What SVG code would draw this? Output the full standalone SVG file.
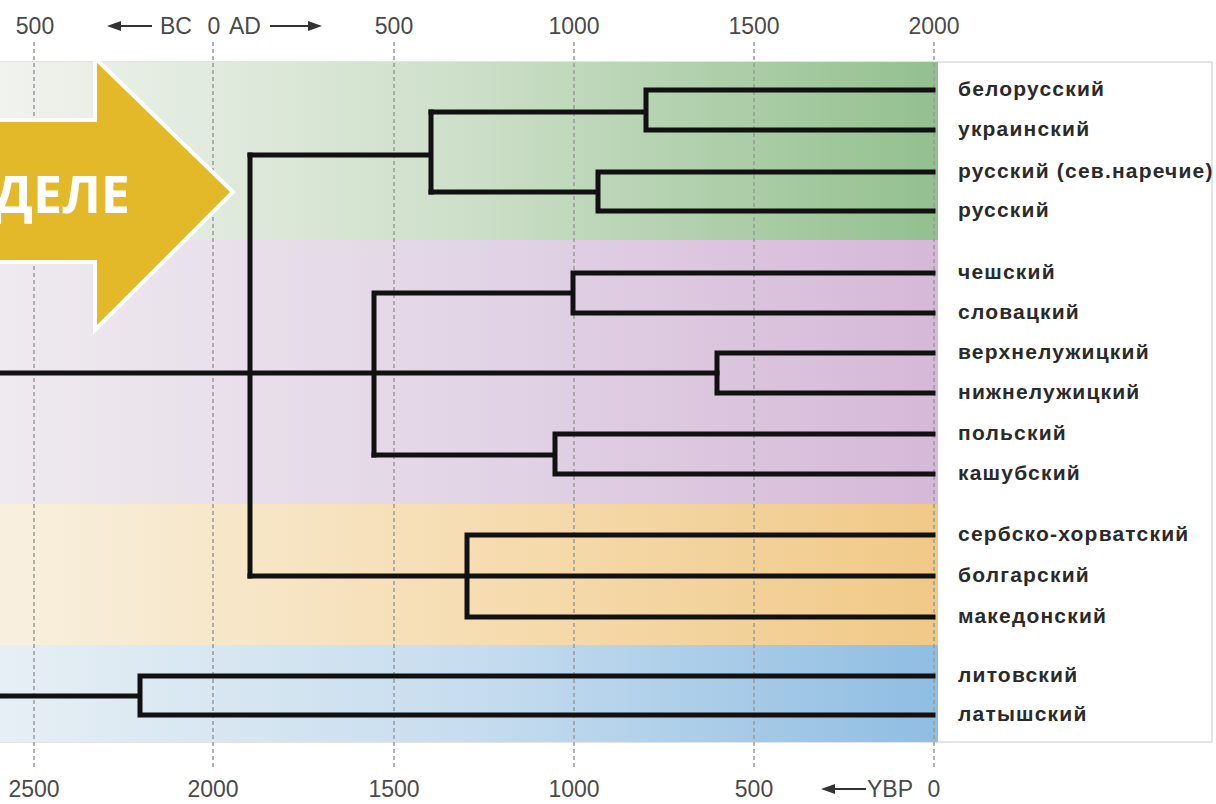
<svg xmlns="http://www.w3.org/2000/svg" width="1216" height="804" viewBox="0 0 1216 804">
<defs>
<linearGradient id="gGreen" x1="0" y1="0" x2="1" y2="0"><stop offset="0" stop-color="#f1f3ee"/><stop offset="0.5" stop-color="#cddfc9"/><stop offset="1" stop-color="#93c08f"/></linearGradient>
<linearGradient id="gPurple" x1="0" y1="0" x2="1" y2="0"><stop offset="0" stop-color="#efeaef"/><stop offset="0.5" stop-color="#e2d5e6"/><stop offset="1" stop-color="#d6b8d8"/></linearGradient>
<linearGradient id="gOrange" x1="0" y1="0" x2="1" y2="0"><stop offset="0" stop-color="#f8f0df"/><stop offset="0.5" stop-color="#f6ddb2"/><stop offset="1" stop-color="#f0c987"/></linearGradient>
<linearGradient id="gBlue" x1="0" y1="0" x2="1" y2="0"><stop offset="0" stop-color="#e6eff4"/><stop offset="0.5" stop-color="#c7ddef"/><stop offset="1" stop-color="#8fbde2"/></linearGradient>
</defs>
<style>
.grid{stroke:#9a9a9a;stroke-width:1.5;stroke-dasharray:4 3;fill:none}
.tree{stroke:#111;stroke-width:5;fill:none;stroke-linecap:square}
.axis{font-family:"Liberation Sans",Arial,sans-serif;font-size:23px;fill:#4a4a4a}
.mid{text-anchor:middle}
.lbl{font-family:"Liberation Sans",Arial,sans-serif;font-size:21px;font-weight:bold;fill:#2a2a2a;letter-spacing:1.2px}
.ax{stroke:#333;stroke-width:2}
</style>
<rect width="1216" height="804" fill="#fff"/>
<rect x="-2" y="62" width="1214" height="680" fill="#fff" stroke="#dcdcdc" stroke-width="1.5"/>
<g id="bands">
<rect x="0" y="62" width="938" height="178" fill="url(#gGreen)"/>
<rect x="0" y="240" width="938" height="264" fill="url(#gPurple)"/>
<rect x="0" y="504" width="938" height="141" fill="url(#gOrange)"/>
<rect x="0" y="645" width="938" height="97" fill="url(#gBlue)"/>
</g>
<g id="grid">
<line class="grid" x1="34" y1="42" x2="34" y2="768"/>
<line class="grid" x1="213" y1="42" x2="213" y2="768"/>
<line class="grid" x1="394" y1="42" x2="394" y2="768"/>
<line class="grid" x1="574" y1="42" x2="574" y2="768"/>
<line class="grid" x1="754" y1="42" x2="754" y2="768"/>
<line class="grid" x1="934" y1="42" x2="934" y2="768"/>
</g>
<g id="axis-top">
<text class="axis mid" x="35" y="34">500</text>
<line class="ax" x1="116" y1="26" x2="152" y2="26"/>
<polygon points="107,26 121,21 121,31" fill="#333"/>
<text class="axis" x="160" y="34">BC</text>
<text class="axis mid" x="214" y="34">0</text>
<text class="axis" x="229" y="34">AD</text>
<line class="ax" x1="270" y1="26" x2="312" y2="26"/>
<polygon points="322,26 308,21 308,31" fill="#333"/>
<text class="axis mid" x="394" y="34">500</text>
<text class="axis mid" x="574" y="34">1000</text>
<text class="axis mid" x="754" y="34">1500</text>
<text class="axis mid" x="934" y="34">2000</text>
</g>
<g id="axis-bottom">
<text class="axis mid" x="34" y="797">2500</text>
<text class="axis mid" x="213" y="797">2000</text>
<text class="axis mid" x="394" y="797">1500</text>
<text class="axis mid" x="574" y="797">1000</text>
<text class="axis mid" x="754" y="797">500</text>
<line class="ax" x1="830" y1="789" x2="866" y2="789"/>
<polygon points="821,789 835,784 835,794" fill="#333"/>
<text class="axis" x="867" y="797">YBP</text>
<text class="axis mid" x="934" y="797">0</text>
</g>
<g id="connectors">
<path class="tree" d="M0,373 H717"/>
<path class="tree" d="M250,155 V576"/>
<path class="tree" d="M250,155 H431 M431,112 V192"/>
<path class="tree" d="M431,112 H646 M646,90 V130 M646,90 H933 M646,130 H933"/>
<path class="tree" d="M431,192 H598 M598,172 V211 M598,172 H933 M598,211 H933"/>
<path class="tree" d="M374,293 V455 M374,293 H573 M573,273 V313 M573,273 H933 M573,313 H933"/>
<path class="tree" d="M717,353 V393 M717,353 H933 M717,393 H933"/>
<path class="tree" d="M374,455 H555 M555,434 V474 M555,434 H933 M555,474 H933"/>
<path class="tree" d="M250,576 H933 M467,535 V617 M467,535 H933 M467,617 H933"/>
<path class="tree" d="M0,696 H140 M140,676 V715 M140,676 H933 M140,715 H933"/>
</g>
<g id="leaf-belorusskiy"><text class="lbl" x="958" y="96">белорусский</text></g>
<g id="leaf-ukrainskiy"><text class="lbl" x="958" y="136">украинский</text></g>
<g id="leaf-russkiy-sev"><text class="lbl" x="958" y="178">русский (сев.наречие)</text></g>
<g id="leaf-russkiy"><text class="lbl" x="958" y="217">русский</text></g>
<g id="leaf-cheshskiy"><text class="lbl" x="958" y="279">чешский</text></g>
<g id="leaf-slovatskiy"><text class="lbl" x="958" y="319">словацкий</text></g>
<g id="leaf-verkhneluzh"><text class="lbl" x="958" y="359">верхнелужицкий</text></g>
<g id="leaf-nizhneluzh"><text class="lbl" x="958" y="399">нижнелужицкий</text></g>
<g id="leaf-polskiy"><text class="lbl" x="958" y="440">польский</text></g>
<g id="leaf-kashubskiy"><text class="lbl" x="958" y="480">кашубский</text></g>
<g id="leaf-serbohorv"><text class="lbl" x="958" y="541">сербско-хорватский</text></g>
<g id="leaf-bolgarskiy"><text class="lbl" x="958" y="582">болгарский</text></g>
<g id="leaf-makedonskiy"><text class="lbl" x="958" y="623">македонский</text></g>
<g id="leaf-litovskiy"><text class="lbl" x="958" y="682">литовский</text></g>
<g id="leaf-latyshskiy"><text class="lbl" x="958" y="721">латышский</text></g>
<g id="callout-arrow">
<polygon points="-10,120 95,120 95,58 233,192 95,330 95,262 -10,262" fill="#e4b929" stroke="#fff" stroke-width="4" stroke-linejoin="miter"/>
<text x="130" y="213" text-anchor="end" font-family="'Open Sans','Noto Sans',sans-serif" font-weight="bold" font-size="52" fill="#fff">ДЕЛЕ</text>
</g>
</svg>
